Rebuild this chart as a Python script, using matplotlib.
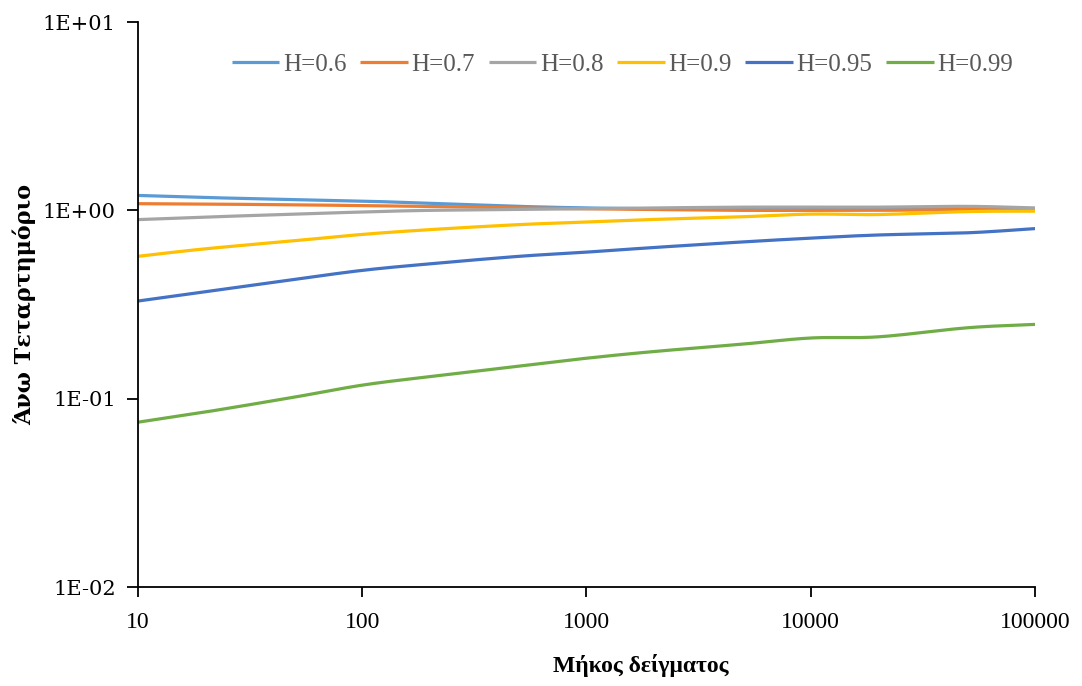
import numpy as np
import matplotlib
matplotlib.use("Agg")
import matplotlib.pyplot as plt
from matplotlib.ticker import FixedLocator, NullLocator

# Sample lengths and upper-quartile estimates for each Hurst exponent
sample_length = [10, 20, 50, 100, 200, 500, 1000, 2000, 5000, 10000, 20000, 50000, 100000]
h_labels = ["H=0.6", "H=0.7", "H=0.8", "H=0.9", "H=0.95", "H=0.99"]
h06 = [1.20, 1.17, 1.14, 1.12, 1.09, 1.05, 1.03, 1.02, 1.01, 1.01, 1.01, 1.02, 1.02]
h07 = [1.085, 1.08, 1.07, 1.06, 1.05, 1.03, 1.02, 1.01, 1.00, 1.00, 1.00, 1.01, 1.00]
h08 = [0.893, 0.921, 0.955, 0.98, 1.00, 1.01, 1.02, 1.03, 1.04, 1.04, 1.04, 1.05, 1.03]
h09 = [0.57, 0.625, 0.69, 0.745, 0.79, 0.84, 0.867, 0.895, 0.925, 0.955, 0.95, 0.985, 0.99]
h095 = [0.33, 0.37, 0.43, 0.48, 0.52, 0.57, 0.60, 0.635, 0.68, 0.712, 0.74, 0.76, 0.80]
h099 = [0.075, 0.085, 0.102, 0.118, 0.131, 0.149, 0.164, 0.178, 0.195, 0.21, 0.213, 0.238, 0.248]
series = [h06, h07, h08, h09, h095, h099]
colors = ["#5B9BD5", "#ED7D31", "#A5A5A5", "#FFC000", "#4472C4", "#70AD47"]

y_ticks = [0.01, 0.1, 1, 10]
y_tick_labels = ["1E-02", "1E-01", "1E+00", "1E+01"]
x_ticks = [10, 100, 1000, 10000, 100000]
x_tick_labels = ["10", "100", "1000", "10000", "100000"]


def smooth(xs, ys, n=30):
    """Catmull-Rom curve through the points, computed in log-log space."""
    lx = np.log10(np.asarray(xs, float))
    ly = np.log10(np.asarray(ys, float))
    px = np.concatenate([[2 * lx[0] - lx[1]], lx, [2 * lx[-1] - lx[-2]]])
    py = np.concatenate([[2 * ly[0] - ly[1]], ly, [2 * ly[-1] - ly[-2]]])
    outx, outy = [], []
    t = np.linspace(0, 1, n, endpoint=False)
    for i in range(1, len(px) - 2):
        for arr, out in ((px, outx), (py, outy)):
            p0, p1, p2, p3 = arr[i - 1], arr[i], arr[i + 1], arr[i + 2]
            out.extend(0.5 * ((2 * p1) + (-p0 + p2) * t
                              + (2 * p0 - 5 * p1 + 4 * p2 - p3) * t ** 2
                              + (-p0 + 3 * p1 - 3 * p2 + p3) * t ** 3))
    outx.append(lx[-1])
    outy.append(ly[-1])
    return 10 ** np.array(outx), 10 ** np.array(outy)


fig = plt.figure(figsize=(10.82, 6.86), dpi=100)
ax = fig.add_axes([0.1275, 0.1443, 0.8291, 0.8236])

for vals, lab, col in zip(series, h_labels, colors):
    sx, sy = smooth(sample_length, vals)
    ax.plot(sx, sy, color=col, lw=2.3, label=lab, solid_capstyle="butt")

ax.set_xscale("log")
ax.set_yscale("log")
ax.set_xlim(10, 100000)
ax.set_ylim(0.01, 10)

ax.xaxis.set_major_locator(FixedLocator(x_ticks))
ax.xaxis.set_minor_locator(NullLocator())
ax.yaxis.set_major_locator(FixedLocator(y_ticks))
ax.yaxis.set_minor_locator(NullLocator())
ax.set_xticklabels(x_tick_labels, fontfamily="Liberation Serif", fontsize=17)
ax.set_yticklabels(y_tick_labels, fontfamily="DejaVu Serif", fontsize=15)

for side in ("top", "right"):
    ax.spines[side].set_visible(False)
for side in ("left", "bottom"):
    ax.spines[side].set_linewidth(1.3)
    ax.spines[side].set_color("black")
ax.tick_params(axis="y", direction="out", length=8, width=1.3, pad=8)
ax.tick_params(axis="x", direction="out", length=7, width=1.3, pad=11)

ax.set_xlabel("Μήκος δείγματος", fontfamily="Liberation Serif", fontweight="bold",
              fontsize=17)
ax.xaxis.set_label_coords(0.56, -0.118)
ax.set_ylabel("Άνω Τεταρτημόριο", fontfamily="DejaVu Serif", fontweight="bold",
              fontsize=16)
ax.yaxis.set_label_coords(-0.113, 0.5)

leg = ax.legend(loc="center", bbox_to_anchor=(0.54, 0.924), ncol=6,
                frameon=False, handlelength=1.9, handletextpad=0.15,
                columnspacing=0.55, prop={"family": "Liberation Serif", "size": 18})
for t in leg.get_texts():
    t.set_color("#595959")

fig.savefig("out.png", dpi=100, facecolor="white")
